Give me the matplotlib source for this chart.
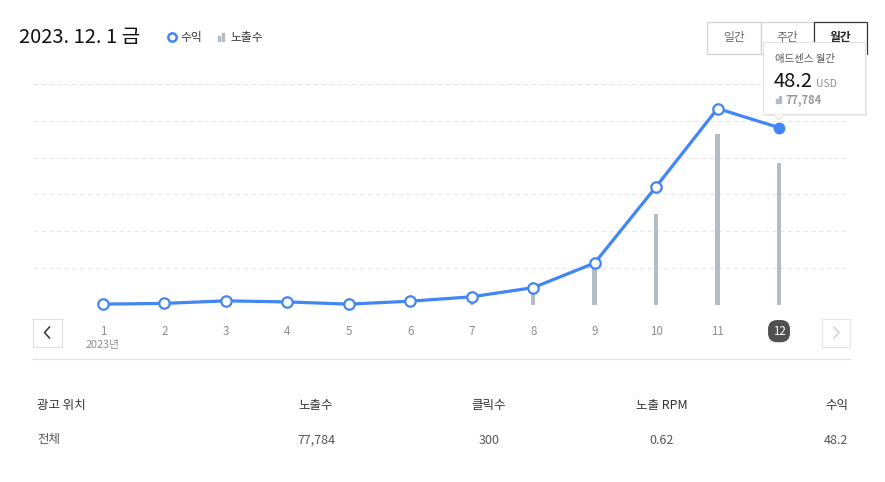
import numpy as np
import matplotlib.pyplot as plt
from matplotlib.patches import Rectangle, Polygon
from matplotlib.lines import Line2D

plt.rcParams['font.family'] = ['Noto Sans CJK KR', 'DejaVu Sans']

# data
months = list(range(1, 13))
month_labels = [str(m) for m in months]
revenue = [0.1, 0.3, 1.0, 0.7, 0.1, 0.9, 2.1, 4.6, 11.3, 32.1, 53.4, 48.2]
impressions = [150, 400, 900, 700, 200, 1100, 2100, 7900, 22000, 49900, 93600, 77784]

table_cols = ['광고 위치', '노출수', '클릭수', '노출 RPM', '수익']
table_vals = ['전체', '77,784', '300', '0.62', '48.2']

BLUE = '#4285f4'
BARGRAY = '#b4bcc6'
W, H = 885, 482


def fx(x):
    return x / W


def fy(y):
    return 1 - y / H


fig = plt.figure(figsize=(W / 100, H / 100), dpi=100)

rect = [fx(33), fy(304.5), (850 - 33) / W, (304.5 - 84.3) / H]
ax = fig.add_axes(rect)           # grid + ticks
ax_bar = fig.add_axes(rect, sharex=ax)
ax_rev = fig.add_axes(rect, sharex=ax)

for a in (ax, ax_bar, ax_rev):
    for s in a.spines.values():
        s.set_visible(False)
    a.patch.set_visible(False)
    a.tick_params(left=False, labelleft=False, bottom=False)
ax_bar.tick_params(labelbottom=False)
ax_rev.tick_params(labelbottom=False)

ax.set_xlim(-0.139, 13.155)
ax.set_ylim(0, 60)
ax.set_yticks([10, 20, 30, 40, 50, 60])
ax.yaxis.grid(True, linestyle=(0, (4, 3)), color='#e6e6e6', linewidth=0.8)
ax.set_xticks(months)
ax.set_xticklabels(month_labels, fontsize=8.3, color='#8c8c8c')
ax.tick_params(axis='x', pad=11)
last = ax.get_xticklabels()[-1]
last.set_color('white')
last.set_bbox(dict(boxstyle='round,pad=0.4,rounding_size=0.8', fc='#505050', ec='none'))

ax.annotate('2023년', xy=(months[0], 0), xycoords='data', xytext=(0, -29),
            textcoords='offset points', ha='center', va='center', fontsize=7.8, color='#8c8c8c',
            annotation_clip=False)

# impressions bars
ax_bar.set_ylim(0, 121220)
ax_bar.bar(months, impressions, width=0.07, color=BARGRAY, zorder=2)

# revenue line
ax_rev.set_ylim(0, 60)
ax_rev.plot(months, revenue, color=BLUE, linewidth=2.3, zorder=3, clip_on=False)
ax_rev.plot(months[:-1], revenue[:-1], 'o', markersize=7.5, markerfacecolor='white',
            markeredgecolor=BLUE, markeredgewidth=1.6, zorder=4, clip_on=False)
ax_rev.plot(months[-1:], revenue[-1:], 'o', markersize=7.5, markerfacecolor=BLUE,
            markeredgecolor=BLUE, zorder=4, clip_on=False)

# header
fig.text(fx(19), fy(37), '2023. 12. 1 금', fontsize=14.5, color='#111111', va='center')
fig.add_artist(Line2D([fx(172)], [fy(37)], marker='o', markersize=6, markerfacecolor='white',
                      markeredgecolor=BLUE, markeredgewidth=1.8))
fig.text(fx(180), fy(37), '수익', fontsize=8.5, color='#333333', va='center')
fig.add_artist(Rectangle((fx(218), fy(41)), 2 / W, 5 / H, transform=fig.transFigure, color=BARGRAY))
fig.add_artist(Rectangle((fx(222), fy(41)), 2 / W, 8 / H, transform=fig.transFigure, color=BARGRAY))
fig.text(fx(230), fy(37), '노출수', fontsize=8.5, color='#333333', va='center')

# period buttons
for x0, x1, lab, ec, bold in [(707, 761, '일간', '#d0d4d9', False),
                             (761, 814, '주간', '#d0d4d9', False),
                             (814, 867, '월간', '#333333', True)]:
    fig.add_artist(Rectangle((fx(x0), fy(54)), (x1 - x0) / W, 32 / H, transform=fig.transFigure,
                             fc='white', ec=ec, lw=0.9, zorder=5))
    fig.text(fx((x0 + x1) / 2), fy(38), lab, fontsize=8.5, ha='center', va='center',
             color='#222222' if bold else '#666666', fontweight='bold' if bold else 'normal', zorder=6)

# tooltip
fig.add_artist(Rectangle((fx(765), fy(116)), 102 / W, 72 / H, transform=fig.transFigure,
                         fc='#eeeeee', ec='none', zorder=7))
fig.add_artist(Rectangle((fx(763), fy(114)), 102 / W, 72 / H, transform=fig.transFigure,
                         fc='white', ec='#e2e2e2', lw=0.8, zorder=8))
fig.add_artist(Polygon([(fx(773), fy(114)), (fx(779), fy(120)), (fx(785), fy(114))],
                       closed=True, transform=fig.transFigure, fc='white', ec='#e2e2e2', lw=0.8, zorder=8))
fig.add_artist(Rectangle((fx(773.5), fy(114)), 11 / W, 1.2 / H, transform=fig.transFigure,
                         fc='white', ec='none', zorder=9))
fig.text(fx(775), fy(59), '애드센스 월간', fontsize=7.5, color='#555555', va='center', zorder=10)
fig.text(fx(774), fy(81), '48.2', fontsize=14.5, color='#111111', va='center', fontweight='medium', zorder=10)
fig.text(fx(816), fy(84), 'USD', fontsize=7.5, color='#8c8c8c', va='center', zorder=10)
fig.add_artist(Rectangle((fx(776), fy(103)), 2 / W, 4 / H, transform=fig.transFigure, color=BARGRAY, zorder=10))
fig.add_artist(Rectangle((fx(779), fy(103)), 2 / W, 7 / H, transform=fig.transFigure, color=BARGRAY, zorder=10))
fig.text(fx(786), fy(100), '77,784', fontsize=8, color='#999999', va='center', fontweight='bold', zorder=10)

# navigation arrows
fig.add_artist(Rectangle((fx(33), fy(347)), 29 / W, 28 / H, transform=fig.transFigure,
                         fc='white', ec='#dcdfe3', lw=0.8))
fig.add_artist(Line2D([fx(49.5), fx(44.5), fx(49.5)], [fy(327), fy(332.5), fy(338)],
                      color='#333333', lw=1.1))
fig.add_artist(Rectangle((fx(822), fy(347)), 28 / W, 28 / H, transform=fig.transFigure,
                         fc='white', ec='#e3e6ea', lw=0.8))
fig.add_artist(Line2D([fx(834), fx(839), fx(834)], [fy(327), fy(332.5), fy(338)],
                      color='#d0d0d0', lw=1.1))

fig.add_artist(Line2D([fx(33), fx(850)], [fy(359), fy(359)], color='#e2e2e2', lw=0.9))

# table
col_x = [37, 316, 489, 662, 848]
col_ha = ['left', 'center', 'center', 'center', 'right']
for x, ha, head, val in zip(col_x, col_ha, table_cols, table_vals):
    fig.text(fx(x), fy(406), head, fontsize=9, color='#333333', ha=ha, va='center')
    fig.text(fx(x), fy(440), val, fontsize=9, color='#555555', ha=ha, va='center')

fig.savefig('out.png', dpi=100)
